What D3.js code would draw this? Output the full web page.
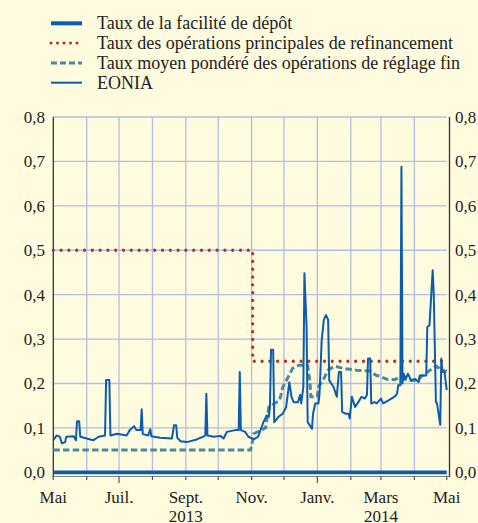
<!DOCTYPE html>
<html><head><meta charset="utf-8">
<script src="https://cdn.jsdelivr.net/npm/d3@7"></script>
<style>
html,body{margin:0;padding:0;background:#fffbdf;}
svg{display:block;}
</style></head>
<body>
<svg id="chart" width="478" height="523"></svg>
<script>
// ---------- DATA ----------
const legendLabels = [
  "Taux de la facilité de dépôt",
  "Taux des opérations principales de refinancement",
  "Taux moyen pondéré des opérations de réglage fin",
  "EONIA"
];
const yTicks = [0, 0.1, 0.2, 0.3, 0.4, 0.5, 0.6, 0.7, 0.8];
const monthLabels = ["Mai","Juil.","Sept.","Nov.","Janv.","Mars","Mai"];
const monthLabelDates = ["2013-05-01","2013-07-01","2013-09-01","2013-11-01","2014-01-01","2014-03-01","2014-05-01"];
const yearLabels = ["2013","2014"];
const yearLabelDates = ["2013-09-01","2014-03-01"];
const longTickDates = ["2013-07-01","2014-01-01"];

const depositDates = ["2013-05-01","2014-05-01"];
const depositValues = [0.0, 0.0];

const mroDates = ["2013-05-01","2013-11-02","2014-05-01"];
const mroValues = [0.5, 0.25, 0.25];

const ftDates = ["2013-05-01","2013-10-31","2013-11-02","2013-11-03","2013-11-10","2013-11-14","2013-11-17","2013-11-27","2013-11-30","2013-12-05","2013-12-09","2013-12-15","2013-12-23","2013-12-25","2013-12-26","2014-01-01","2014-01-02","2014-01-07","2014-01-11","2014-01-17","2014-01-25","2014-02-06","2014-02-19","2014-02-24","2014-03-01","2014-03-07","2014-03-14","2014-03-19","2014-03-25","2014-04-04","2014-04-09","2014-04-18","2014-04-21","2014-04-27","2014-05-01"];
const ftValues = [0.05,0.05,0.072,0.087,0.095,0.10,0.147,0.162,0.192,0.215,0.234,0.241,0.241,0.207,0.17,0.17,0.192,0.211,0.23,0.239,0.234,0.23,0.228,0.219,0.215,0.209,0.209,0.215,0.207,0.207,0.219,0.234,0.239,0.23,0.227];

const eoniaDates = ["2013-05-01","2013-05-04","2013-05-07","2013-05-09","2013-05-12","2013-05-13","2013-05-20","2013-05-22","2013-05-23","2013-05-25","2013-05-26","2013-06-01","2013-06-07","2013-06-12","2013-06-18","2013-06-19","2013-06-22","2013-06-23","2013-06-29","2013-07-08","2013-07-11","2013-07-15","2013-07-17","2013-07-21","2013-07-22","2013-07-23","2013-07-28","2013-07-30","2013-07-31","2013-08-08","2013-08-19","2013-08-21","2013-08-23","2013-08-24","2013-08-27","2013-09-02","2013-09-11","2013-09-17","2013-09-19","2013-09-20","2013-09-21","2013-09-27","2013-10-03","2013-10-06","2013-10-09","2013-10-17","2013-10-20","2013-10-21","2013-10-22","2013-10-26","2013-10-29","2013-11-03","2013-11-07","2013-11-12","2013-11-15","2013-11-17","2013-11-18","2013-11-19","2013-11-21","2013-11-22","2013-11-26","2013-11-30","2013-12-03","2013-12-06","2013-12-08","2013-12-10","2013-12-14","2013-12-16","2013-12-17","2013-12-19","2013-12-20","2013-12-22","2013-12-23","2013-12-27","2013-12-28","2013-12-30","2014-01-02","2014-01-03","2014-01-05","2014-01-07","2014-01-09","2014-01-11","2014-01-12","2014-01-16","2014-01-19","2014-01-21","2014-01-23","2014-01-24","2014-01-27","2014-01-30","2014-01-31","2014-02-02","2014-02-05","2014-02-08","2014-02-11","2014-02-14","2014-02-16","2014-02-17","2014-02-19","2014-02-20","2014-02-23","2014-02-25","2014-03-01","2014-03-03","2014-03-08","2014-03-14","2014-03-16","2014-03-17","2014-03-19","2014-03-20","2014-03-21","2014-03-22","2014-03-24","2014-03-26","2014-03-29","2014-04-02","2014-04-05","2014-04-06","2014-04-12","2014-04-13","2014-04-15","2014-04-18","2014-04-19","2014-04-21","2014-04-22","2014-04-25","2014-04-26","2014-04-27","2014-04-29","2014-05-01"];
const eoniaValues = [0.072,0.083,0.080,0.065,0.068,0.080,0.081,0.072,0.115,0.115,0.080,0.076,0.072,0.080,0.083,0.208,0.208,0.083,0.087,0.083,0.095,0.104,0.095,0.095,0.142,0.086,0.083,0.097,0.081,0.078,0.076,0.106,0.106,0.078,0.070,0.068,0.074,0.080,0.083,0.177,0.083,0.080,0.082,0.076,0.091,0.095,0.095,0.226,0.095,0.091,0.080,0.074,0.080,0.113,0.128,0.125,0.147,0.276,0.276,0.113,0.125,0.132,0.147,0.203,0.170,0.158,0.158,0.174,0.155,0.192,0.448,0.327,0.113,0.098,0.132,0.155,0.155,0.177,0.297,0.343,0.354,0.343,0.207,0.192,0.170,0.226,0.226,0.136,0.132,0.132,0.121,0.170,0.147,0.158,0.170,0.166,0.174,0.256,0.256,0.155,0.158,0.155,0.166,0.155,0.162,0.171,0.177,0.196,0.196,0.688,0.200,0.222,0.210,0.222,0.207,0.210,0.203,0.218,0.218,0.327,0.331,0.455,0.399,0.158,0.155,0.107,0.256,0.226,0.226,0.185];

// ---------- CHART ----------
const FONT = "'Liberation Serif', monospace";
const parse = d3.timeParse("%Y-%m-%d");
const svg = d3.select("#chart");
const W = 478, H = 523;
svg.append("rect").attr("width", W).attr("height", H).attr("fill", "#fffbdf");

const x = d3.scaleTime().domain([parse("2013-05-01"), parse("2014-05-01")]).range([53.3, 446.7]);
const y = d3.scaleLinear().domain([0, 0.8]).range([472.3, 117]);
const fmt = v => d3.format(".1f")(v).replace(".", ",");

const gridColor = "#b2bedf";
const months = d3.timeMonth.range(parse("2013-05-01"), parse("2014-05-02"));

// grid
const grid = svg.append("g");
grid.selectAll("line.h").data(yTicks.filter(v => v > 0)).join("line")
  .attr("x1", x.range()[0]).attr("x2", x.range()[1])
  .attr("y1", d => y(d)).attr("y2", d => y(d))
  .attr("stroke", gridColor).attr("stroke-width", 1.3);
grid.selectAll("line.v").data(months.slice(1, -1)).join("line")
  .attr("x1", d => x(d)).attr("x2", d => x(d))
  .attr("y1", y(0.8)).attr("y2", y(0))
  .attr("stroke", gridColor).attr("stroke-width", 1.3);

// axes
const axisG = svg.append("g");
axisG.append("line").attr("x1", x.range()[0]).attr("x2", 449.5)
  .attr("y1", 476.5).attr("y2", 476.5).attr("stroke", "#808080").attr("stroke-width", 1.2);
axisG.append("line").attr("x1", 53.3).attr("x2", 53.3)
  .attr("y1", y(0.8)).attr("y2", 477).attr("stroke", "#333").attr("stroke-width", 1.3);
axisG.append("line").attr("x1", 449.5).attr("x2", 449.5)
  .attr("y1", y(0.8)).attr("y2", 477).attr("stroke", "#333").attr("stroke-width", 1.3);

const longSet = new Set(longTickDates);
const fmtD = d3.timeFormat("%Y-%m-%d");
axisG.selectAll("line.tick").data(months).join("line")
  .attr("x1", d => x(d)).attr("x2", d => x(d))
  .attr("y1", 476).attr("y2", d => longSet.has(fmtD(d)) ? 483 : 480)
  .attr("stroke", "#555").attr("stroke-width", 1.2);

// y labels
const yl = svg.append("g");
yl.selectAll("text.l").data(yTicks).join("text")
  .attr("x", 45).attr("y", d => y(d)).attr("dy", "0.35em")
  .attr("text-anchor", "end").text(fmt);
yl.selectAll("text.r").data(yTicks).join("text")
  .attr("x", 455).attr("y", d => y(d)).attr("dy", "0.35em")
  .attr("text-anchor", "start").text(fmt);

// x labels
const xl = svg.append("g").attr("text-anchor", "middle");
xl.selectAll("text.m").data(monthLabels).join("text")
  .attr("x", (d, i) => x(parse(monthLabelDates[i]))).attr("y", 503).text(d => d);
xl.selectAll("text.y").data(yearLabels).join("text")
  .attr("x", (d, i) => x(parse(yearLabelDates[i]))).attr("y", 521.5).text(d => d);

// series
const line = d3.line().x(d => x(d.date)).y(d => y(d.value));
const toPts = (ds, vs) => ds.map((d, i) => ({date: parse(d), value: vs[i]}));

const blue = "#0b5cad";
const red = "#b0322e";
const teal = "#4a8a9c";

svg.append("path").datum(toPts(depositDates, depositValues))
  .attr("d", line).attr("fill", "none").attr("stroke", blue).attr("stroke-width", 3.8);

svg.append("path").datum(toPts(mroDates, mroValues))
  .attr("d", line.curve(d3.curveStepAfter)).attr("fill", "none").attr("stroke", red)
  .attr("stroke-width", 3.3).attr("stroke-linecap", "round").attr("stroke-dasharray", "0 7.8");
line.curve(d3.curveLinear);

svg.append("path").datum(toPts(ftDates, ftValues))
  .attr("d", line).attr("fill", "none").attr("stroke", teal)
  .attr("stroke-width", 3).attr("stroke-dasharray", "6.5 3.2");

svg.append("path").datum(toPts(eoniaDates, eoniaValues))
  .attr("d", line).attr("fill", "none").attr("stroke", blue)
  .attr("stroke-width", 2).attr("stroke-linejoin", "round");

// all axis texts
svg.selectAll("text").style("font-family", FONT).style("font-size", "17px").style("fill", "#222");

// legend
const lg = svg.append("g");
const styles = [
  {w: 4, dash: null, cap: "butt", c: blue},
  {w: 3, dash: "0 6.5", cap: "round", c: red},
  {w: 3, dash: "6 3", cap: "butt", c: teal},
  {w: 2, dash: null, cap: "butt", c: blue}
];
legendLabels.forEach((lab, i) => {
  const yy = 23.3 + i * 19.8;
  const s = styles[i];
  lg.append("line").attr("x1", 51).attr("x2", 82).attr("y1", yy).attr("y2", yy)
    .attr("stroke", s.c).attr("stroke-width", s.w).attr("stroke-linecap", s.cap)
    .attr("stroke-dasharray", s.dash);
  lg.append("text").attr("x", 97).attr("y", yy + 6).text(lab)
    .style("font-family", FONT).style("font-size", "18px").style("fill", "#222");
});
</script>
</body></html>
